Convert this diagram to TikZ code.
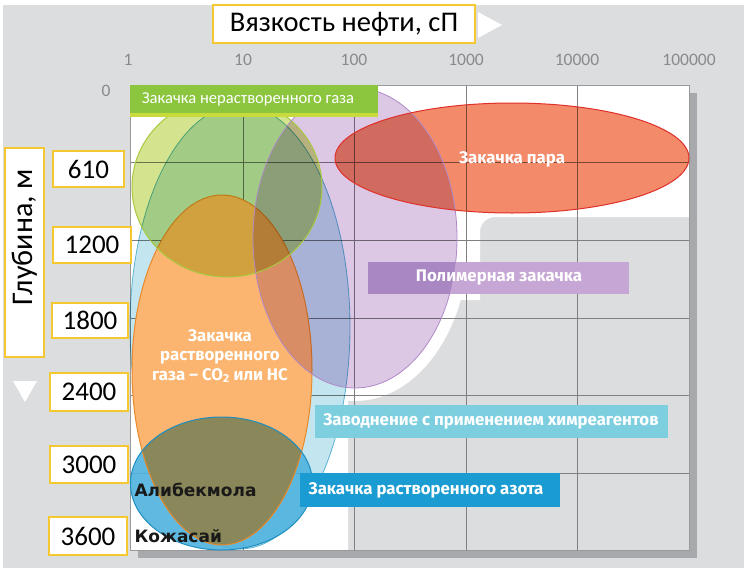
\documentclass[tikz,border=0pt]{standalone}
\usepackage{fontspec}
\setmainfont{Carlito}
\newfontfamily\barfont{Fira Sans}
\newfontfamily\dvfont{DejaVu Sans}
\definecolor{bggray}{HTML}{DCDDDF}
\definecolor{shadowc}{HTML}{A7A9AC}
\definecolor{gridc}{HTML}{808080}
\definecolor{yellowb}{HTML}{F5C730}
\definecolor{lbfill}{HTML}{C3E5EF}
\definecolor{lbline}{HTML}{6CC0DC}
\definecolor{pufill}{HTML}{DCC7E5}
\definecolor{puline}{HTML}{B08AC8}
\definecolor{rdfill}{HTML}{F38A6A}
\definecolor{rdline}{HTML}{E0302A}
\definecolor{orfill}{HTML}{FBB570}
\definecolor{orline}{HTML}{E8892A}
\definecolor{lmfill}{HTML}{D4E38E}
\definecolor{lmline}{HTML}{A8C840}
\definecolor{blfill}{HTML}{52B4DE}
\definecolor{blline}{HTML}{1E8EC0}
\definecolor{olivec}{HTML}{8A875A}
\definecolor{greenbar}{HTML}{8CC63F}
\definecolor{greenstrip}{HTML}{C8DA3C}
\definecolor{polybar}{HTML}{C6A6D4}
\definecolor{polydark}{HTML}{A987C3}
\definecolor{chembar}{HTML}{7DCFE0}
\definecolor{azbar}{HTML}{1A9BD1}
\definecolor{tickc}{HTML}{8A8A8A}
\begin{document}
\begin{tikzpicture}[x=1pt,y=-1pt,
  gridline/.style={draw=gridc,line width=1pt},
  lblbox/.style={draw=yellowb,line width=1.6pt,fill=white,inner sep=0pt},
  depthnum/.style={font=\fontsize{27}{30}\selectfont,text=black},
  ticklbl/.style={font=\fontsize{17.5}{20}\selectfont,text=tickc},
  bartext/.style={font=\barfont\bfseries\fontsize{16.8}{19}\selectfont,text=white},
  fieldtext/.style={font=\dvfont\bfseries\fontsize{17}{19}\selectfont,text=black!90,anchor=west},
  mult/.style={blend mode=multiply}]
\useasboundingbox (0,0) rectangle (750,568);
\fill[white] (0,0) rectangle (750,568);
\fill[bggray] (3,5) rectangle (744,568);
% plot shadow and area
\fill[shadowc] (138,93) rectangle (697,558);
\fill[bggray] (130,85) rectangle (689,550);
\begin{scope}
  \clip (130,85) rectangle (689,550);
  \fill[white] (130,85) -- (689,85) -- (689,217) -- (495,217)
     arc[start angle=90,end angle=180,radius=15pt] -- (480,300) -- (348,300)
     -- (348,550) -- (130,550) -- cycle;
  \fill[white] (355,240) ellipse[x radius=114pt,y radius=161pt];
\end{scope}
% grid
\foreach \gx in {243,354,466,577} \draw[gridline] (\gx,85) -- (\gx,550);
\foreach \gy in {162,240,318,395,473} \draw[gridline] (130,\gy) -- (689,\gy);
\draw[draw=gridc!80,line width=1pt] (130,85) rectangle (689,550);
% regions
\path[mult,fill=lbfill,draw=lbline,line width=0.8pt] (240,327) ellipse[x radius=110pt,y radius=222pt];
\path[fill=orfill] (222,370) ellipse[x radius=90pt,y radius=175pt];
\path[fill=blfill,fill opacity=0.92] (221.5,483.5) ellipse[x radius=91pt,y radius=66.5pt];
\begin{scope}
  \clip (222,370) ellipse[x radius=90pt,y radius=175pt];
  \fill[olivec] (221.5,483.5) ellipse[x radius=91pt,y radius=66.5pt];
\end{scope}
\draw[orline,line width=1pt] (222,370) ellipse[x radius=90pt,y radius=175pt];
\draw[blline,line width=1pt] (221.5,483.5) ellipse[x radius=91pt,y radius=66.5pt];
\path[mult,fill=lmfill] (227,187) ellipse[x radius=95pt,y radius=90pt];
\path[mult,fill=pufill] (355,238) ellipse[x radius=102pt,y radius=150pt];
\path[mult,fill=rdfill] (512,158) ellipse[x radius=177pt,y radius=55pt];
\draw[lmline,line width=1pt] (227,187) ellipse[x radius=95pt,y radius=90pt];
\draw[puline,line width=0.8pt] (355,238) ellipse[x radius=102pt,y radius=150pt];
\draw[rdline,line width=1pt] (512,158) ellipse[x radius=177pt,y radius=55pt];
% bars
\fill[greenstrip] (130,113) rectangle (378,117);
\fill[greenbar] (130,85) rectangle (378,113);
\fill[polybar] (368,262) rectangle (629,294);
\begin{scope}
  \clip (355,238) ellipse[x radius=102pt,y radius=150pt];
  \fill[polydark] (368,262) rectangle (629,294);
\end{scope}
\fill[chembar] (315,405) rectangle (668,438);
\fill[azbar] (300,473) rectangle (560,507);
% texts
\node[font=\fontsize{16.6}{18}\selectfont,text=white] (tgas) at (248,99) {Закачка нерастворенного газа};
\node[bartext] (tpar) at (512,159) {Закачка пара};
\node[bartext] (tpoly) at (499,278) {Полимерная закачка};
\node[bartext] (tchem) at (491,421) {Заводнение с применением химреагентов};
\node[bartext] (taz) at (426,490) {Закачка растворенного азота};
\node[bartext,align=center,font=\barfont\bfseries\fontsize{16.8}{19.5}\selectfont] (tco) at (220,356) {Закачка\\растворенного\\газа – CO\textsubscript{2} или НС};
\node[fieldtext] (ali) at (131,490) {Алибекмола};
\node[fieldtext] (koz) at (131,536) {Кожасай};
% axis labels
\node[ticklbl] (v1) at (128,60) {1};
\node[ticklbl] (v10) at (243,60) {10};
\node[ticklbl] (v100) at (354,60) {100};
\node[ticklbl] (v1000) at (466,60) {1000};
\node[ticklbl] (v10000) at (577,60) {10000};
\node[ticklbl] (v100000) at (689,60) {100000};
\node[ticklbl] (d0) at (106,91) {0};
% title
\node[lblbox,minimum width=262pt,minimum height=38pt,font=\fontsize{28.5}{31}\selectfont] (title) at (344,24) {Вязкость нефти, сП};
\fill[white] (478,12) -- (478,38) -- (502,25) -- cycle;
% depth axis
\node[lblbox,minimum width=39pt,minimum height=209pt] (depthbox) at (24.5,252.5) {};
\node[rotate=90,font=\fontsize{30}{32}\selectfont] (depthlbl) at (24.5,237) {Глубина, м};
\fill[white] (13,381) -- (37,381) -- (25,402) -- cycle;
\node[lblbox,depthnum,minimum width=71pt,minimum height=36pt] (b610) at (88.5,169) {610};
\node[lblbox,depthnum,minimum width=78pt,minimum height=36pt] (b1200) at (92,245) {1200};
\node[lblbox,depthnum,minimum width=76pt,minimum height=35pt] (b1800) at (90,320.5) {1800};
\node[lblbox,depthnum,minimum width=78pt,minimum height=38pt] (b2400) at (89,392) {2400};
\node[lblbox,depthnum,minimum width=78pt,minimum height=37pt] (b3000) at (89,464.5) {3000};
\node[lblbox,depthnum,minimum width=78pt,minimum height=38pt] (b3600) at (88,536) {3600};
\end{tikzpicture}
\end{document}
